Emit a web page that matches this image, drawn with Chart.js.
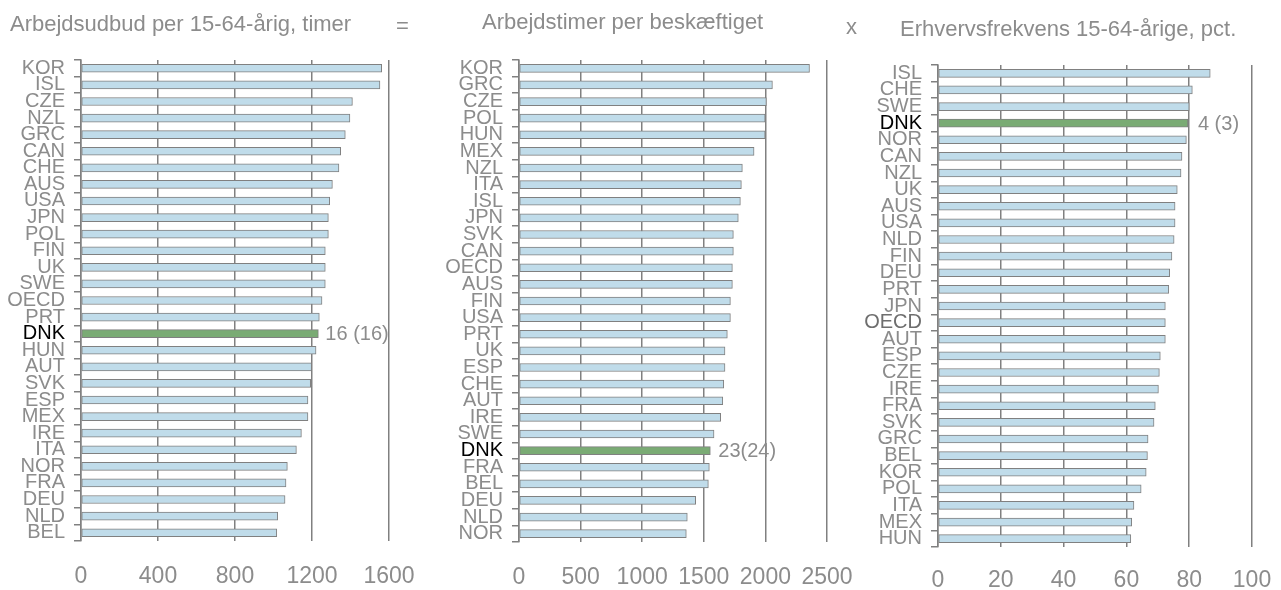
<!DOCTYPE html>
<html lang="da">
<head>
<meta charset="UTF-8">
<title>Arbejdsudbud</title>
<script src="https://cdn.jsdelivr.net/npm/chart.js"></script>
<style>
  body { margin: 0; background: #fff; font-family: "Liberation Sans", Arial, sans-serif; }
  #wrap { position: relative; width: 1281px; height: 590px; overflow: hidden; }
  .panel { position: absolute; top: 0; height: 590px; }
  .txt { position: absolute; color: #8c8c8c; font-size: 22px; line-height: 1; white-space: nowrap; z-index: 2; }
</style>
</head>
<body>
<div id="wrap">
  <div class="txt" style="left:10px; top:13px;">Arbejdsudbud per 15-64-årig, timer</div>
  <div class="txt" style="left:396px; top:15px;">=</div>
  <div class="txt" style="left:482px; top:11px;">Arbejdstimer per beskæftiget</div>
  <div class="txt" style="left:846px; top:16px;">x</div>
  <div class="txt" style="left:900px; top:18px;">Erhvervsfrekvens 15-64-årige, pct.</div>

  <div class="panel" style="left:0; width:420px;"><canvas id="c1"></canvas></div>
  <div class="panel" style="left:430px; width:430px;"><canvas id="c2"></canvas></div>
  <div class="panel" style="left:860px; width:421px;"><canvas id="c3"></canvas></div>
</div>

<script>
// Arbejdsudbud per 15-64-årig, timer
const udbudLande = ['KOR','ISL','CZE','NZL','GRC','CAN','CHE','AUS','USA','JPN','POL','FIN','UK','SWE','OECD',
  'PRT','DNK','HUN','AUT','SVK','ESP','MEX','IRE','ITA','NOR','FRA','DEU','NLD','BEL'];
const udbudTimer = [1562,1553,1410,1397,1373,1349,1340,1306,1292,1285,1285,1269,1269,1269,1252,
  1238,1233,1221,1198,1193,1179,1179,1145,1119,1072,1065,1060,1022,1017];

// Arbejdstimer per beskæftiget
const timerLande = ['KOR','GRC','CZE','POL','HUN','MEX','NZL','ITA','ISL','JPN','SVK','CAN','OECD','AUS','FIN',
  'USA','PRT','UK','ESP','CHE','AUT','IRE','SWE','DNK','FRA','BEL','DEU','NLD','NOR'];
const timerVaerdi = [2358,2057,2008,1998,1998,1908,1813,1805,1797,1780,1740,1740,1732,1732,1716,
  1716,1691,1672,1672,1662,1654,1637,1583,1553,1545,1537,1434,1366,1358];

// Erhvervsfrekvens 15-64-årige, pct.
const frekLande = ['ISL','CHE','SWE','DNK','NOR','CAN','NZL','UK','AUS','USA','NLD','FIN','DEU','PRT','JPN',
  'OECD','AUT','ESP','CZE','IRE','FRA','SVK','GRC','BEL','KOR','POL','ITA','MEX','HUN'];
const frekPct = [86.7,81.0,80.0,79.6,79.1,77.7,77.4,76.2,75.5,75.5,75.2,74.5,73.8,73.5,72.4,
  72.4,72.4,70.8,70.5,70.2,69.2,68.8,66.9,66.7,66.3,64.7,62.4,61.7,61.4];

// placering for DNK (nuværende og tidligere)
const dnkTekst = ['16 (16)', '23(24)', '4 (3)'];

const GRAA = '#8c8c8c';
const LINJE = '#808080';
const BLAA = '#c0dcea';
const GROEN = '#7aab74';

// tekst til højre for DNK-søjlen
const dnkLabel = {
  id: 'dnkLabel',
  afterDatasetsDraw(chart, args, opts) {
    const idx = chart.data.labels.indexOf('DNK');
    const bar = chart.getDatasetMeta(0).data[idx];
    if (!bar) return;
    const ctx = chart.ctx;
    ctx.save();
    ctx.font = '20px "Liberation Sans", Arial, sans-serif';
    ctx.fillStyle = GRAA;
    ctx.textAlign = 'left';
    ctx.textBaseline = 'middle';
    ctx.fillText(opts.text, bar.x + opts.gap, bar.y + 1);
    ctx.restore();
  }
};

function lavPanel(id, labels, values, max, step, o) {
  new Chart(document.getElementById(id), {
    type: 'bar',
    data: {
      labels: labels,
      datasets: [{
        data: values,
        backgroundColor: labels.map(l => l === 'DNK' ? GROEN : BLAA),
        borderColor: LINJE,
        borderWidth: 1,
        borderSkipped: false,
        barThickness: 8
      }]
    },
    options: {
      indexAxis: 'y',
      responsive: true,
      maintainAspectRatio: false,
      animation: false,
      layout: { padding: { top: o.top, right: o.right, left: 0, bottom: 0 } },
      plugins: {
        legend: { display: false },
        tooltip: { enabled: false },
        dnkLabel: { text: o.text, gap: o.gap }
      },
      scales: {
        x: {
          min: 0, max: max,
          ticks: {
            stepSize: step,
            color: GRAA,
            padding: o.tickPad,
            maxRotation: 0,
            minRotation: 0,
            autoSkip: false,
            callback: v => String(v),
            font: { family: '"Liberation Sans", Arial, sans-serif', size: 23 }
          },
          grid: { color: LINJE, lineWidth: 1.5, drawTicks: false },
          border: { display: false },
          afterFit: s => { s.height = o.xh; s.paddingLeft = 0; s.paddingRight = 0; }
        },
        y: {
          ticks: {
            color: c => c.tick.label === 'DNK' ? '#000' : (c.tick.label === 'OECD' && o.oecdDark ? '#6e6e6e' : GRAA),
            padding: 9,
            autoSkip: false,
            font: { family: '"Liberation Sans", Arial, sans-serif', size: 20 }
          },
          grid: { drawOnChartArea: false, tickLength: 7, color: LINJE, lineWidth: 1.5, offset: true },
          border: { display: true, color: LINJE, width: 1.5 },
          afterFit: s => { s.width = o.yw; s.paddingTop = 0; s.paddingBottom = 0; }
        }
      }
    },
    plugins: [dnkLabel]
  });
}

lavPanel('c1', udbudLande, udbudTimer, 1600, 400,
  { top: 60, right: 31, yw: 81, xh: 49, tickPad: 22, text: dnkTekst[0], gap: 7 });
lavPanel('c2', timerLande, timerVaerdi, 2500, 500,
  { top: 60, right: 33, yw: 89, xh: 48, tickPad: 22, text: dnkTekst[1], gap: 8 });
lavPanel('c3', frekLande, frekPct, 100, 20,
  { top: 65, right: 29, yw: 78, xh: 43, tickPad: 20, text: dnkTekst[2], gap: 10, oecdDark: true });
</script>
</body>
</html>
